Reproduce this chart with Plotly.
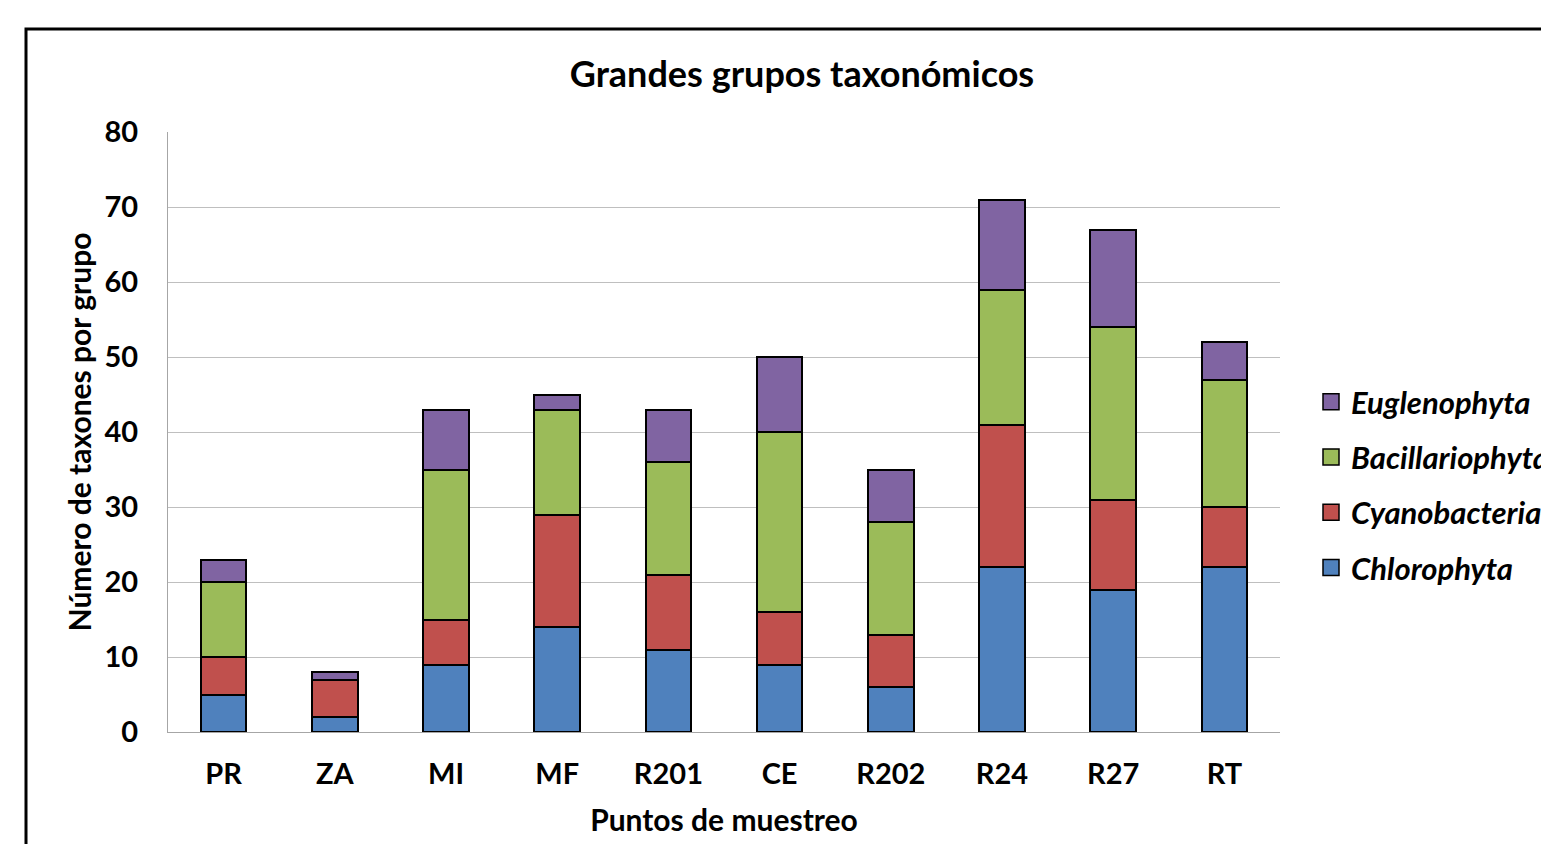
import plotly.graph_objects as go

# Sampling points and number of taxa per large taxonomic group
puntos = ["PR", "ZA", "MI", "MF", "R201", "CE", "R202", "R24", "R27", "RT"]
chlorophyta = [5, 2, 9, 14, 11, 9, 6, 22, 19, 22]
cyanobacteria = [5, 5, 6, 15, 10, 7, 7, 19, 12, 8]
bacillariophyta = [10, 0, 20, 14, 15, 24, 15, 18, 23, 17]
euglenophyta = [3, 1, 8, 2, 7, 10, 7, 12, 13, 5]

y_ticks = [0, 10, 20, 30, 40, 50, 60, 70, 80]

series = [
    ("Chlorophyta", chlorophyta, "#4F81BD"),
    ("Cyanobacteria", cyanobacteria, "#C0504D"),
    ("Bacillariophyta", bacillariophyta, "#9BBB59"),
    ("Euglenophyta", euglenophyta, "#8064A2"),
]

FONT = "Lato"

fig = go.Figure()
for name, vals, color in series:
    fig.add_trace(go.Bar(
        x=puntos, y=vals, name=name, showlegend=False,
        marker=dict(color=color, line=dict(color="black", width=2)),
    ))

# Legend entries (top group first) with larger square swatches
for i, (name, vals, color) in enumerate(reversed(series)):
    fig.add_trace(go.Scatter(
        x=[None], y=[None], mode="markers", name=name, legendgroup=f"g{i}",
        marker=dict(symbol="square", size=16, color=color,
                    line=dict(color="black", width=1.5)),
        hoverinfo="skip",
    ))

W, H = 1541, 844
L, R, T, B = 168, 261, 132, 112
pw, ph = W - L - R, H - T - B

def px_x(x):
    return (x - L) / pw

def px_y(y):
    return (H - B - y) / ph

fig.update_layout(
    width=W, height=H,
    margin=dict(l=L, r=R, t=T, b=B, autoexpand=False),
    barmode="stack", bargap=0.59,
    paper_bgcolor="white", plot_bgcolor="white",
    font=dict(family=FONT, color="black"),
    title=dict(
        text="Grandes grupos taxonómicos",
        font=dict(size=36, family=FONT, color="black", weight="bold"),
        x=px_x(802), xref="paper", xanchor="center",
        y=1 - 74 / H, yref="container", yanchor="middle",
    ),
    xaxis=dict(
        showgrid=False, showline=True, linecolor="#A6A6A6", linewidth=1,
        tickfont=dict(size=29, family=FONT, weight="bold"), ticks="",
        ticklabelstandoff=16,
        title=dict(text="Puntos de muestreo",
                   font=dict(size=30, weight="bold"), standoff=21),
    ),
    yaxis=dict(
        range=[0, 80], tickvals=y_ticks, showgrid=True, gridcolor="#BFBFBF",
        gridwidth=1, showline=True, linecolor="#A6A6A6", linewidth=1,
        zeroline=False,
        tickfont=dict(size=29, family=FONT, weight="bold"), ticks="",
        ticklabelstandoff=23,
        title=dict(text="Número de taxones por grupo",
                   font=dict(size=30, weight="bold"), standoff=4),
    ),
    legend=dict(
        x=px_x(1311), xanchor="left", y=px_y(485), yanchor="middle",
        traceorder="grouped", tracegroupgap=12,
        font=dict(size=31, family=FONT, weight="bold", style="italic"),
        bgcolor="rgba(0,0,0,0)",
    ),
    showlegend=True,
)

# Outer chart frame
fig.add_shape(
    type="rect", xref="paper", yref="paper",
    x0=px_x(26), x1=px_x(1600), y0=px_y(29), y1=px_y(900),
    line=dict(color="black", width=3), fillcolor="rgba(0,0,0,0)", layer="below",
)

fig.write_html("out.html")
